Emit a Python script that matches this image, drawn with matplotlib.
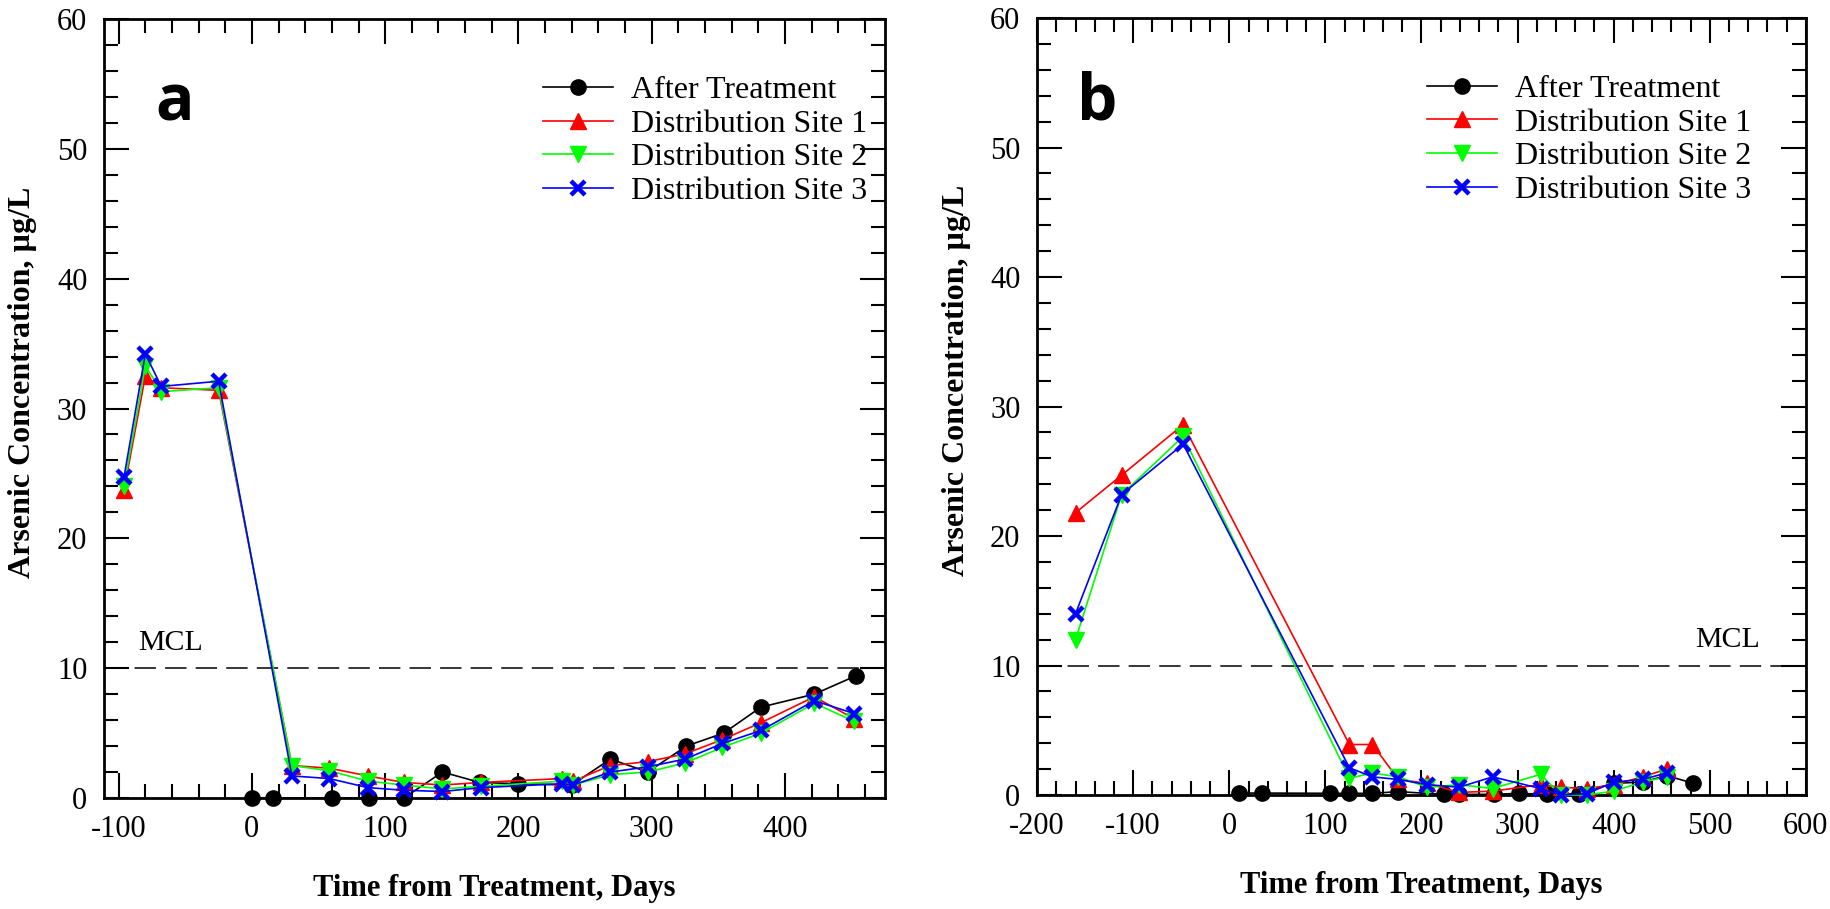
import numpy as np
import matplotlib.pyplot as plt
from matplotlib.ticker import MultipleLocator

plt.rcParams['font.family'] = ['Liberation Serif', 'DejaVu Serif']
plt.rcParams['axes.unicode_minus'] = False

# panel a
a_after_x = [0, 16, 60, 88, 114, 143, 171, 200, 240, 269, 297, 326, 354, 382, 422, 453]
a_after_y = [0, 0, 0, 0, 0, 2.0, 1.2, 1.1, 1.0, 3.0, 2.0, 4.0, 5.0, 7.0, 8.0, 9.4]
a_dist_x = [-96, -80, -68, -25, 30, 58, 87, 114, 143, 172, 233, 241, 269, 297, 325, 353, 382, 422, 452]
a_site1 = [23.7, 32.5, 31.6, 31.4, 2.5, 2.3, 1.7, 1.2, 1.0, 1.2, 1.5, 1.3, 2.5, 2.8, 3.4, 4.5, 5.8, 7.8, 6.1]
a_site2 = [24.0, 33.3, 31.3, 31.6, 2.5, 2.1, 1.3, 1.0, 0.7, 0.9, 1.3, 1.0, 1.8, 2.0, 2.7, 3.9, 5.0, 7.3, 5.9]
a_site3 = [24.7, 34.2, 31.7, 32.1, 1.7, 1.5, 0.8, 0.6, 0.5, 0.8, 1.1, 1.0, 2.0, 2.4, 3.0, 4.2, 5.2, 7.5, 6.5]

# panel b
b_after_x = [10, 34, 105, 125, 149, 176, 223, 239, 275, 301, 331, 364, 400, 430, 455, 483]
b_after_y = [0.15, 0.15, 0.13, 0.13, 0.13, 0.26, 0.05, 0.05, 0.05, 0.13, 0.05, 0.1, 0.9, 1.0, 1.5, 0.9]
b_dist_x = [-160, -112, -48, 125, 149, 176, 206, 239, 274, 324, 345, 372, 400, 430, 455]
b_site1 = [21.8, 24.7, 28.6, 3.9, 3.9, 1.2, 0.9, 0.2, 0.3, 0.8, 0.6, 0.5, 0.8, 1.4, 2.0]
b_site2 = [12.0, 23.2, 27.7, 1.3, 1.7, 1.4, 0.6, 0.8, 0.5, 1.6, 0.0, 0.0, 0.3, 1.0, 1.4]
b_site3 = [14.0, 23.2, 27.1, 2.1, 1.4, 1.2, 0.8, 0.6, 1.4, 0.5, 0.0, 0.1, 1.0, 1.2, 1.7]

labels = ['After Treatment', 'Distribution Site 1', 'Distribution Site 2', 'Distribution Site 3']
MCL = 10


def draw_panel(ax, after_x, after_y, dist_x, sites, xlim, letter, letter_x, mcl_x, leg_x):
    ax.plot(after_x, after_y, color='black', marker='o', ms=11, lw=1.2,
            clip_on=False, zorder=3, label=labels[0])
    styles = [('#ff0000', '^', 11, 1), ('#00ff00', 'v', 11, 1), ('#0000ff', 'x', 10, 3.2)]
    for (c, m, ms, mew), y, lab in zip(styles, sites, labels[1:]):
        ax.plot(dist_x, y, color=c, marker=m, ms=ms, mew=mew, lw=1.2,
                clip_on=False, zorder=4, label=lab)
    ax.axhline(MCL, color='black', lw=1.1, ls=(0, (14, 6)), zorder=1)
    ax.text(mcl_x, 11.4, 'MCL', fontsize=21.5, ha='left', va='baseline')

    ax.set_xlim(*xlim)
    ax.set_ylim(0, 60)
    ax.xaxis.set_major_locator(MultipleLocator(100))
    ax.xaxis.set_minor_locator(MultipleLocator(20))
    ax.yaxis.set_major_locator(MultipleLocator(10))
    ax.yaxis.set_minor_locator(MultipleLocator(2))
    ax.tick_params(which='both', direction='in', top=True, right=True, width=1.5,
                   labelsize=22, pad=12)
    ax.tick_params(which='major', length=18)
    ax.tick_params(which='minor', length=10)
    for s in ax.spines.values():
        s.set_linewidth(2)

    ax.set_xlabel('Time from Treatment, Days', fontsize=22, fontweight='bold', labelpad=22)
    ax.set_ylabel('Arsenic Concentration, µg/L', fontsize=23, fontweight='bold')
    ax.yaxis.set_label_coords(-0.086, 0.534)

    ax.text(letter_x, 0.87, letter, transform=ax.transAxes, fontsize=46,
            fontweight='bold', family='Open Sans', ha='center', va='baseline')

    ax.legend(loc='upper left', bbox_to_anchor=(leg_x, 0.927), frameon=False,
              borderpad=0, borderaxespad=0, fontsize=23, handlelength=2.2,
              labelspacing=0.13, handletextpad=0.55)


fig = plt.figure(figsize=(18.31, 9.09), dpi=100)
ax_a = fig.add_axes([0.0568, 0.1221, 0.4265, 0.857])
ax_b = fig.add_axes([0.5664, 0.1254, 0.4199, 0.8547])

draw_panel(ax_a, a_after_x, a_after_y, a_dist_x, [a_site1, a_site2, a_site3],
           (-111, 475), 'a', 0.09, -85.5, 0.562)
draw_panel(ax_b, b_after_x, b_after_y, b_dist_x, [b_site1, b_site2, b_site3],
           (-200, 600), 'b', 0.078, 485, 0.507)

fig.savefig('out.png', dpi=100)
